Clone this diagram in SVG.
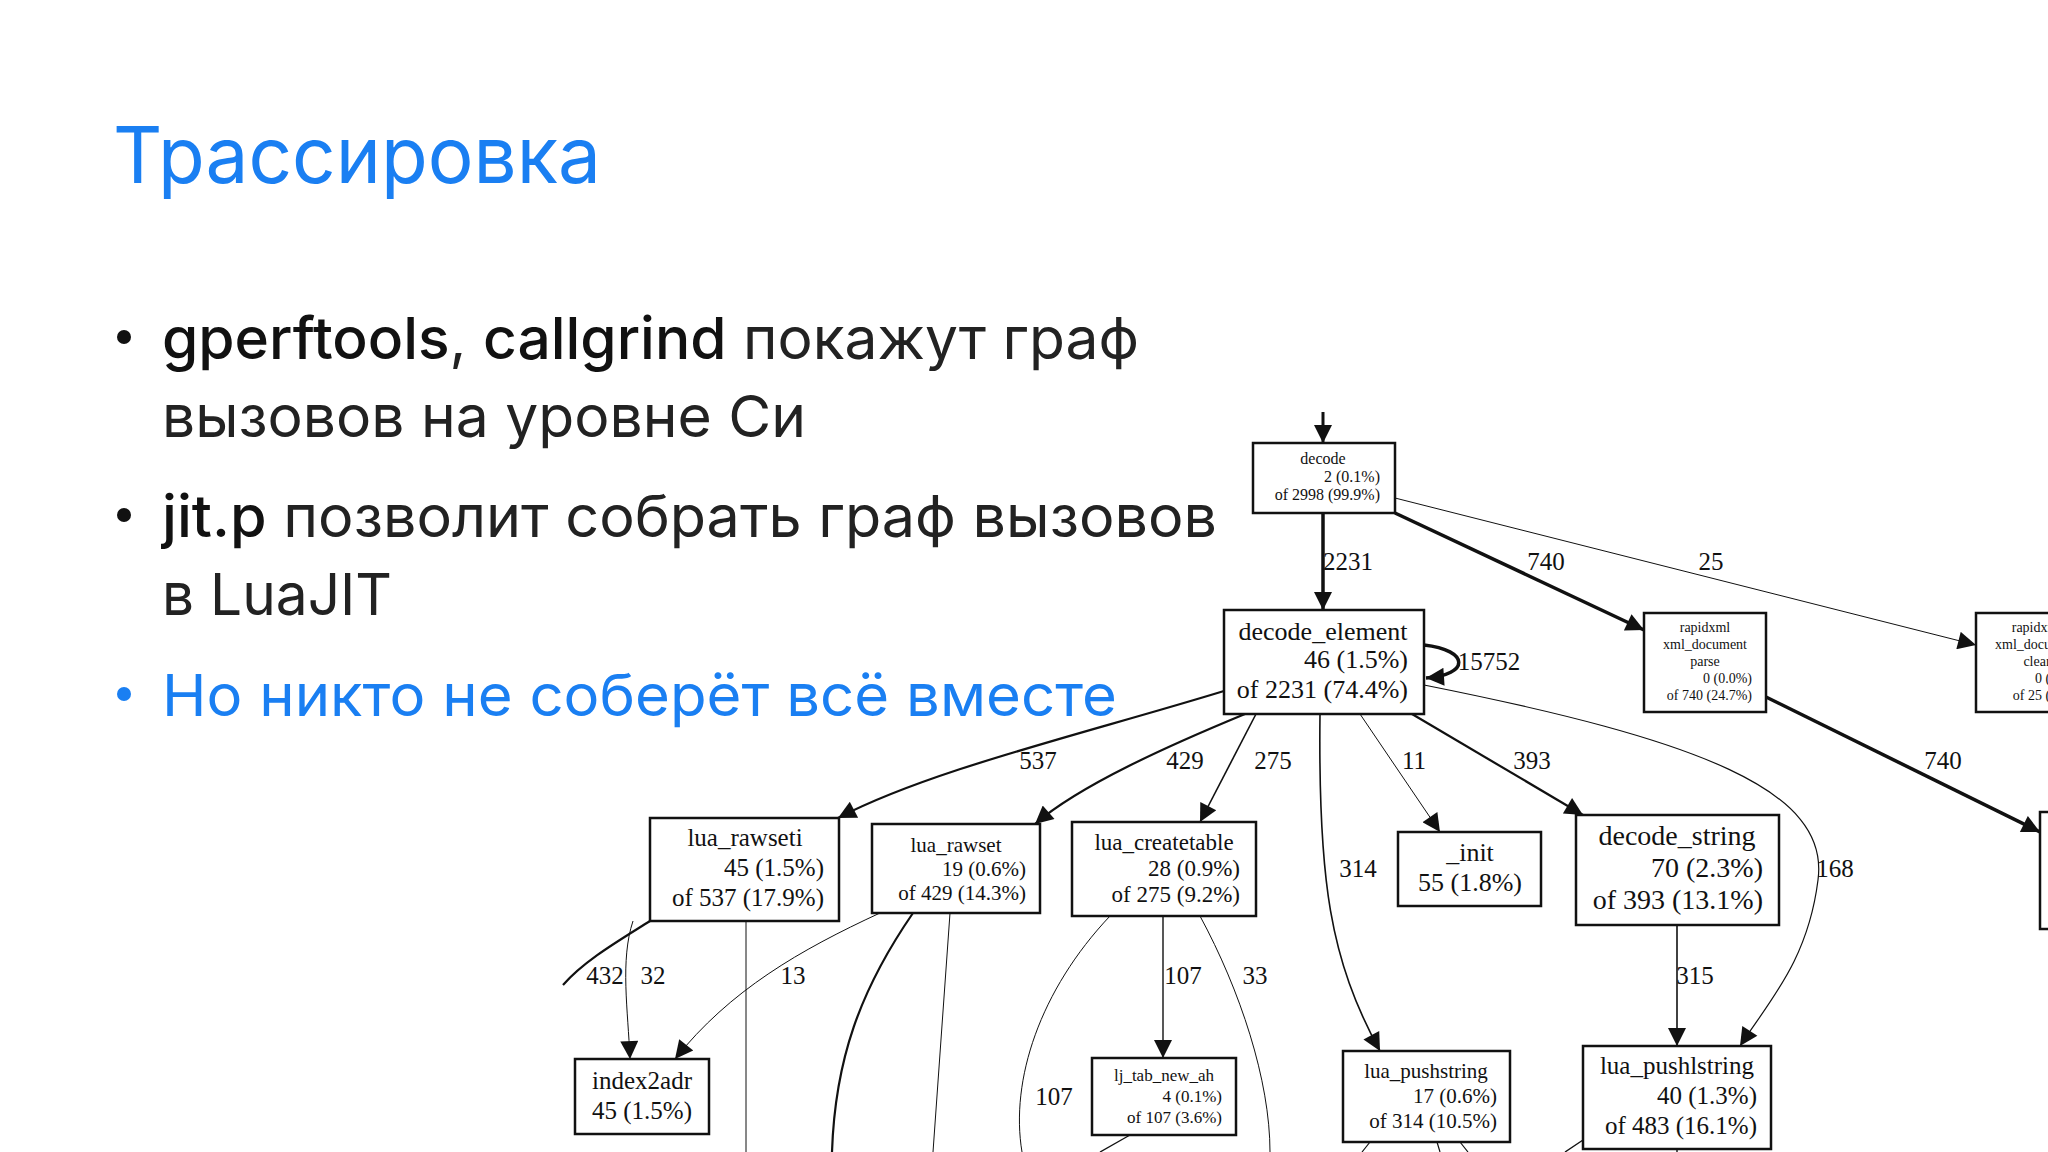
<svg xmlns="http://www.w3.org/2000/svg" width="2048" height="1152" viewBox="0 0 2048 1152">
<style>
.t{font-family:Inter,"Noto Sans",sans-serif;font-size:58px;fill:#222}
.b{fill:#111;font-weight:500}
.blue{fill:#1a7ff2}
.n rect{fill:#fff;stroke:#111;stroke-width:2.5}
.n text{font-family:"Liberation Serif",serif;fill:#111}
.e path{fill:none;stroke:#111}
.lbl{font-family:"Liberation Serif",serif;font-size:25px;fill:#111;text-anchor:middle}
</style>
<defs>
<marker id="ab" viewBox="0 0 10 10" refX="10" refY="5" markerWidth="22" markerHeight="18" markerUnits="userSpaceOnUse" orient="auto"><path d="M0,0L10,5L0,10z" fill="#111"/></marker>
</defs>
<rect width="2048" height="1152" fill="#fff"/>
<text x="113" y="183" font-family="Inter,'Noto Sans',sans-serif" font-size="78" fill="#1a7ff2" textLength="488" lengthAdjust="spacingAndGlyphs">Трассировка</text>
<g class="t">
<circle cx="124" cy="337" r="7" fill="#111"/>
<text x="162" y="359" textLength="977" lengthAdjust="spacingAndGlyphs"><tspan class="b">gperftools</tspan>, <tspan class="b">callgrind</tspan> покажут граф</text>
<text x="162" y="437" textLength="644" lengthAdjust="spacingAndGlyphs">вызовов на уровне Си</text>
<circle cx="124" cy="515" r="7" fill="#111"/>
<text x="162" y="537" textLength="1055" lengthAdjust="spacingAndGlyphs"><tspan class="b">jit.p</tspan> позволит собрать граф вызовов</text>
<text x="162" y="615" textLength="230" lengthAdjust="spacingAndGlyphs">в LuaJIT</text>
<circle cx="124" cy="694" r="7" fill="#1a7ff2"/>
<text class="blue" x="162" y="716" textLength="955" lengthAdjust="spacingAndGlyphs">Но никто не соберёт всё вместе</text>
</g>
<g id="edges" class="e">
<path d="M1323,412V443" stroke-width="3" marker-end="url(#ab)"/>
<path d="M1323,513V610" stroke-width="3.5" marker-end="url(#ab)"/>
<path d="M1395,513L1644,630" stroke-width="3.5" marker-end="url(#ab)"/>
<path d="M1395,498L1976,645" stroke-width="1" stroke="#888" marker-end="url(#ab)"/>
<path d="M1766,697L2040,832" stroke-width="3.5" marker-end="url(#ab)"/>
<path d="M1424,645C1470,650 1470,675 1426,678" stroke-width="3.5" marker-end="url(#ab)"/>
<path d="M1224,691C1080,735 930,770 838,818" stroke-width="2.2" marker-end="url(#ab)"/>
<path d="M1245,714C1170,745 1080,785 1035,824" stroke-width="2.2" marker-end="url(#ab)"/>
<path d="M1256,714L1200,822" stroke-width="1.6" marker-end="url(#ab)"/>
<path d="M1360,714L1440,832" stroke-width="1" stroke="#777" marker-end="url(#ab)"/>
<path d="M1412,714L1583,815" stroke-width="2.2" marker-end="url(#ab)"/>
<path d="M1320,714C1318,880 1330,960 1380,1051" stroke-width="1.6" marker-end="url(#ab)"/>
<path d="M1424,685C1700,740 1830,790 1818,880C1808,960 1770,1000 1740,1046" stroke-width="1.2" marker-end="url(#ab)"/>
<path d="M1677,925V1046" stroke-width="1.6" marker-end="url(#ab)"/>
<path d="M650,921C620,940 585,960 563,985" stroke-width="2.2"/>
<path d="M633,921C620,960 628,1010 630,1059" stroke-width="1" stroke="#777" marker-end="url(#ab)"/>
<path d="M746,921V1152" stroke-width="1" stroke="#999"/>
<path d="M880,913C800,950 730,990 675,1059" stroke-width="1" stroke="#999" marker-end="url(#ab)"/>
<path d="M913,913C860,990 835,1060 832,1152" stroke-width="2.2"/>
<path d="M950,913L933,1152" stroke-width="1" stroke="#999"/>
<path d="M1110,916C1040,990 1010,1080 1022,1152" stroke-width="1" stroke="#777"/>
<path d="M1163,916V1058" stroke-width="1.4" marker-end="url(#ab)"/>
<path d="M1200,916C1240,990 1270,1080 1270,1152" stroke-width="1" stroke="#999"/>
<path d="M1130,1135L1100,1152" stroke-width="1.4"/>
<path d="M1370,1142L1362,1152M1437,1142L1440,1152M1460,1142L1468,1152" stroke-width="1.2" stroke="#555"/>
<path d="M1583,1140L1565,1152M1677,1149V1152" stroke-width="1.4"/>
</g>
<g class="lbl">
<text x="1348" y="570">2231</text><text x="1546" y="570">740</text><text x="1711" y="570">25</text>
<text x="1489" y="670">15752</text>
<text x="1038" y="769">537</text><text x="1185" y="769">429</text><text x="1273" y="769">275</text><text x="1414" y="769">11</text><text x="1532" y="769">393</text><text x="1943" y="769">740</text>
<text x="1358" y="877">314</text><text x="1835" y="877">168</text>
<text x="605" y="984">432</text><text x="653" y="984">32</text><text x="793" y="984">13</text><text x="1183" y="984">107</text><text x="1255" y="984">33</text><text x="1695" y="984">315</text>
<text x="1054" y="1105">107</text>
</g>
<g id="decode" class="n"><rect x="1253" y="443" width="142" height="70"/>
<text x="1323" y="464" font-size="16" text-anchor="middle">decode</text>
<text x="1380" y="482" font-size="16" text-anchor="end">2 (0.1%)</text>
<text x="1380" y="500" font-size="16" text-anchor="end">of 2998 (99.9%)</text></g>
<g id="decode_element" class="n"><rect x="1224" y="610" width="200" height="104"/>
<text x="1323" y="640" font-size="26" text-anchor="middle">decode_element</text>
<text x="1408" y="668" font-size="26" text-anchor="end">46 (1.5%)</text>
<text x="1408" y="698" font-size="26" text-anchor="end">of 2231 (74.4%)</text></g>
<g id="parse" class="n"><rect x="1644" y="613" width="122" height="99"/>
<text x="1705" y="632" font-size="14" text-anchor="middle">rapidxml</text>
<text x="1705" y="649" font-size="14" text-anchor="middle">xml_document</text>
<text x="1705" y="666" font-size="14" text-anchor="middle">parse</text>
<text x="1752" y="683" font-size="14" text-anchor="end">0 (0.0%)</text>
<text x="1752" y="700" font-size="14" text-anchor="end">of 740 (24.7%)</text></g>
<g id="clear" class="n"><rect x="1976" y="613" width="122" height="99"/>
<text x="2037" y="632" font-size="14" text-anchor="middle">rapidxml</text>
<text x="2037" y="649" font-size="14" text-anchor="middle">xml_document</text>
<text x="2037" y="666" font-size="14" text-anchor="middle">clear</text>
<text x="2084" y="683" font-size="14" text-anchor="end">0 (0.0%)</text>
<text x="2084" y="700" font-size="14" text-anchor="end">of 25 (0.8%)</text></g>
<g id="right" class="n"><rect x="2040" y="812" width="100" height="117"/></g>
<g id="lua_rawseti" class="n"><rect x="650" y="818" width="189" height="103"/>
<text x="745" y="846" font-size="25" text-anchor="middle">lua_rawseti</text>
<text x="824" y="876" font-size="25" text-anchor="end">45 (1.5%)</text>
<text x="824" y="906" font-size="25" text-anchor="end">of 537 (17.9%)</text></g>
<g id="lua_rawset" class="n"><rect x="872" y="824" width="168" height="89"/>
<text x="956" y="852" font-size="21" text-anchor="middle">lua_rawset</text>
<text x="1026" y="876" font-size="21" text-anchor="end">19 (0.6%)</text>
<text x="1026" y="900" font-size="21" text-anchor="end">of 429 (14.3%)</text></g>
<g id="lua_createtable" class="n"><rect x="1072" y="822" width="184" height="94"/>
<text x="1164" y="850" font-size="23" text-anchor="middle">lua_createtable</text>
<text x="1240" y="876" font-size="23" text-anchor="end">28 (0.9%)</text>
<text x="1240" y="902" font-size="23" text-anchor="end">of 275 (9.2%)</text></g>
<g id="init" class="n"><rect x="1398" y="832" width="143" height="74"/>
<text x="1470" y="861" font-size="26" text-anchor="middle">_init</text>
<text x="1470" y="891" font-size="26" text-anchor="middle">55 (1.8%)</text></g>
<g id="decode_string" class="n"><rect x="1576" y="815" width="203" height="110"/>
<text x="1677" y="845" font-size="28" text-anchor="middle">decode_string</text>
<text x="1763" y="877" font-size="28" text-anchor="end">70 (2.3%)</text>
<text x="1763" y="909" font-size="28" text-anchor="end">of 393 (13.1%)</text></g>
<g id="index2adr" class="n"><rect x="575" y="1059" width="134" height="75"/>
<text x="642" y="1089" font-size="25" text-anchor="middle">index2adr</text>
<text x="642" y="1119" font-size="25" text-anchor="middle">45 (1.5%)</text></g>
<g id="lj_tab_new_ah" class="n"><rect x="1092" y="1058" width="144" height="77"/>
<text x="1164" y="1081" font-size="17" text-anchor="middle">lj_tab_new_ah</text>
<text x="1222" y="1102" font-size="17" text-anchor="end">4 (0.1%)</text>
<text x="1222" y="1123" font-size="17" text-anchor="end">of 107 (3.6%)</text></g>
<g id="lua_pushstring" class="n"><rect x="1343" y="1051" width="167" height="91"/>
<text x="1426" y="1078" font-size="21" text-anchor="middle">lua_pushstring</text>
<text x="1497" y="1103" font-size="21" text-anchor="end">17 (0.6%)</text>
<text x="1497" y="1128" font-size="21" text-anchor="end">of 314 (10.5%)</text></g>
<g id="lua_pushlstring" class="n"><rect x="1583" y="1046" width="188" height="103"/>
<text x="1677" y="1074" font-size="25" text-anchor="middle">lua_pushlstring</text>
<text x="1757" y="1104" font-size="25" text-anchor="end">40 (1.3%)</text>
<text x="1757" y="1134" font-size="25" text-anchor="end">of 483 (16.1%)</text></g>
</svg>
